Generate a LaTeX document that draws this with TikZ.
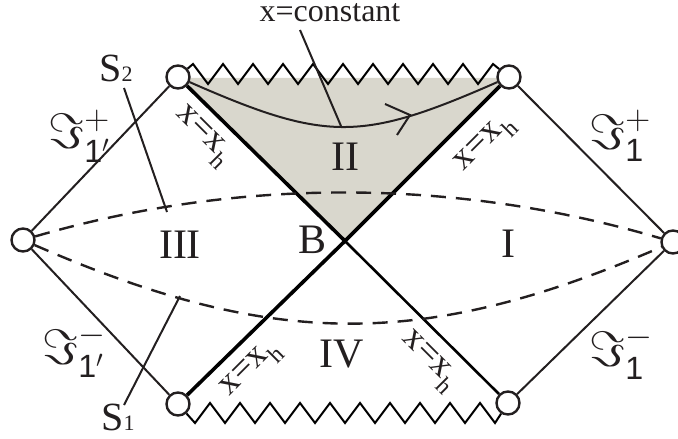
\documentclass[tikz,border=0pt]{standalone}
\usepackage{amssymb}
\usepackage{fontspec}
\setmainfont{Liberation Serif}
\setsansfont{Liberation Sans}
\usetikzlibrary{arrows.meta}
\pgfdeclarelayer{bg}
\pgfsetlayers{bg,main}
\definecolor{ink}{RGB}{35,31,32}
\definecolor{shadegray}{RGB}{217,215,205}
\newcommand{\xxh}{x=x\raisebox{-0.3em}{\fontsize{12}{13}\selectfont h}}
\begin{document}
\begin{tikzpicture}[x=0.5pt,y=-0.5pt,
  hole/.style={circle,draw=ink,fill=white,line width=1.2pt,minimum size=11.5pt,inner sep=0pt},
  thinline/.style={line width=1pt,ink},
  thickedge/.style={line width=1.8pt,black},
  midedge/.style={line width=1.3pt,black},
  dashline/.style={ink,line width=1.2pt,dash pattern=on 7.5pt off 5pt},
  zig/.style={line width=1pt,black,line join=miter},
  lab/.style={font=\fontsize{21}{24}\selectfont,text=ink,inner sep=0pt},
  toplab/.style={font=\fontsize{16}{19}\selectfont,text=ink,inner sep=0pt},
  slab/.style={font=\fontsize{20}{22}\selectfont,text=ink,inner sep=0pt},
  xh/.style={font=\fontsize{18}{20}\selectfont,text=ink,inner sep=0pt},
  frak/.style={font=\fontsize{23}{26}\selectfont,text=ink,inner sep=0pt}]
\useasboundingbox (0,0) rectangle (678,438);
% corner holes
\node[hole] (TL) at (178,77) {};
\node[hole] (TR) at (509,77) {};
\node[hole] (L) at (23,240) {};
\node[hole] (R) at (673,242) {};
\node[hole] (BL) at (178,404) {};
\node[hole] (BR) at (508,403) {};
\coordinate (B) at (345,241);
\begin{pgfonlayer}{bg}
  \fill[shadegray] (178,78) -- (509,78) -- (B) -- cycle;
  % singularities
  \draw[zig] (TL) -- (193,64) \foreach \k in {0,...,9} { -- ({208+30*\k},84) -- ({223+30*\k},64) } -- (TR);
  \draw[zig] (BL) -- (195,423) \foreach \k in {0,...,9} { -- ({210+30*\k},403) -- ({225+30*\k},423) } -- (BR);
  % outer edges
  \draw[thinline] (L) -- (TL);
  \draw[thinline] (L) -- (BL);
  \draw[thinline] (TR) -- (R);
  \draw[thinline] (R) -- (BR);
  % horizons
  \draw[thickedge] (TL) -- (B) -- (TR);
  \draw[thickedge] (BL) -- (B);
  \draw[midedge] (B) -- (BR);
  % x = constant curve
  \draw[thinline] (TL) .. controls (326,142) and (361,142) .. (TR);
  \coordinate (ah) at (410,115);
  \draw[thinline] (ah) ++(-25,-11) -- (ah) -- ++(-13,20);
  % dashed surfaces
  \draw[dashline] (L) .. controls (239,177) and (457,178) .. (R);
  \draw[dashline] (L) .. controls (273,349) and (423,350) .. (R);
\end{pgfonlayer}
% labels
\node[toplab,anchor=base] (xc) at (330,22) {x=constant};
\coordinate (xca) at (300,30);
\coordinate (xcb) at (341,126);
\draw[thinline] (xca) -- (xcb);
\node[lab] (II) at (345,157) {II};
\node[lab] (III) at (180,245) {III};
\node[lab] (Bl) at (312,240) {B};
\node[lab] (I) at (508,244) {I};
\node[lab] (IV) at (342,354) {IV};
\node[slab,anchor=base west] (S2) at (99,82) {S{\fontsize{11}{12}\selectfont 2}};
\node[slab,anchor=base west] (S1) at (101,430) {S{\fontsize{11}{12}\selectfont 1}};
\coordinate (s2a) at (124,88);
\coordinate (s2b) at (167,212);
\draw[thinline] (s2a) -- (s2b);
\coordinate (s1a) at (124,405);
\coordinate (s1b) at (180,296);
\draw[thinline] (s1a) -- (s1b);
\node[frak,anchor=west] (Jpl) at (48,136) {$\Im^{+}_{\mathsf{1}'}$};
\node[frak,anchor=west] (Jml) at (42,351) {$\Im^{-}_{\mathsf{1}'}$};
\node[frak,anchor=west] (Jpr) at (589,136) {$\Im^{+}_{\mathsf{1}}$};
\node[frak,anchor=west] (Jmr) at (589,353) {$\Im^{-}_{\mathsf{1}}$};
\node[xh,rotate=-45] (h1) at (202,137) {\xxh};
\node[xh,rotate=45] (h2) at (486,145) {\xxh};
\node[xh,rotate=45] (h3) at (252,370) {\xxh};
\node[xh,rotate=-45] (h4) at (428,362) {\xxh};
\end{tikzpicture}
\end{document}
